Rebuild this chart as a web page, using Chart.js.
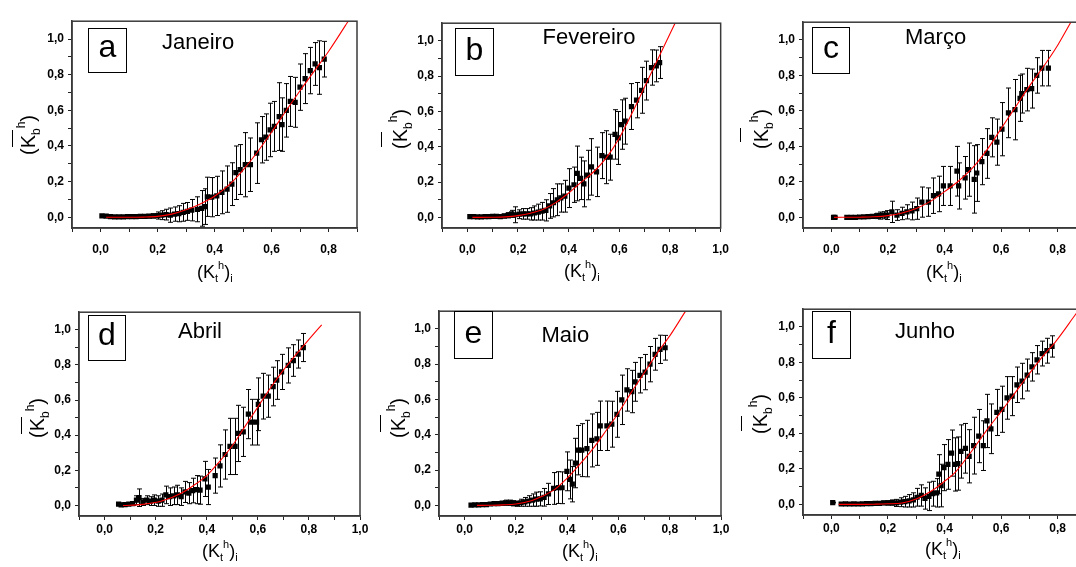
<!DOCTYPE html>
<html><head><meta charset="utf-8">
<script src="https://cdn.jsdelivr.net/npm/chart.js@4.4.0/dist/chart.umd.min.js"></script>
<style>
html,body{margin:0;padding:0;width:1076px;height:567px;overflow:hidden;background:#fff;}
#wrap{position:relative;width:1076px;height:567px;overflow:hidden;}
canvas{position:absolute;}
.t{position:absolute;font-family:"Liberation Sans",Arial,sans-serif;color:#000;white-space:nowrap;line-height:1;}
.box{position:absolute;border:1.6px solid #000;box-sizing:border-box;}
.sb,.sp{font-size:11px;position:relative;}
.sb{top:4px;}
.sp{top:-9px;}
.yt .sb,.yt .sp{font-size:12px;}
.yt .sb{top:5px;}
.yt .sp{top:-10px;}
.ybar{position:absolute;width:1.4px;background:#000;}
</style></head><body><div id="wrap"></div>
<script>
// ---------- tick values and labels ----------
const X_TICKS = [-0.1, 0, 0.1, 0.2, 0.3, 0.4, 0.5, 0.6, 0.7, 0.8, 0.9, 1.0];
const X_TICK_LABELS = ['', '0,0', '', '0,2', '', '0,4', '', '0,6', '', '0,8', '', '1,0'];
const Y_TICKS = [0, 0.1, 0.2, 0.3, 0.4, 0.5, 0.6, 0.7, 0.8, 0.9, 1.0];
const Y_TICK_LABELS = ['0,0', '', '0,2', '', '0,4', '', '0,6', '', '0,8', '', '1,0'];
const LETTERS = ['a', 'b', 'c', 'd', 'e', 'f'];
const MONTHS = ['Janeiro', 'Fevereiro', 'Março', 'Abril', 'Maio', 'Junho'];

// ---------- (a) Janeiro ----------
const janX = [0.005,0.02,0.035,0.05,0.065,0.08,0.095,0.11,0.125,0.14,0.155,0.17,0.185,0.20,0.215,0.23,0.245,0.26,0.275,0.29,0.305,0.32,0.34,0.355,0.365,0.375,0.39,0.408,0.426,0.444,0.461,0.475,0.49,0.508,0.526,0.548,0.565,0.58,0.595,0.61,0.627,0.637,0.652,0.666,0.683,0.70,0.718,0.736,0.753,0.768,0.785];
const janY = [0.008,0.006,0.004,0.003,0.003,0.003,0.004,0.004,0.004,0.005,0.005,0.006,0.008,0.01,0.012,0.015,0.012,0.018,0.02,0.028,0.033,0.04,0.045,0.05,0.06,0.115,0.113,0.12,0.14,0.158,0.186,0.25,0.268,0.295,0.295,0.36,0.435,0.45,0.49,0.51,0.565,0.52,0.60,0.65,0.645,0.73,0.778,0.823,0.86,0.84,0.887];
const janErr = [0.008,0.006,0.004,0.004,0.004,0.005,0.005,0.006,0.006,0.007,0.008,0.01,0.012,0.02,0.025,0.03,0.04,0.04,0.045,0.05,0.05,0.06,0.07,0.1,0.1,0.11,0.11,0.11,0.12,0.13,0.12,0.15,0.14,0.18,0.15,0.17,0.13,0.13,0.15,0.14,0.19,0.15,0.15,0.14,0.14,0.13,0.14,0.13,0.12,0.15,0.1];
const janFitX = [0.02,0.1,0.15,0.2,0.25,0.3,0.35,0.4,0.45,0.5,0.55,0.6,0.65,0.7,0.75,0.8,0.865,0.9];
const janFitY = [0.0,0.0,0.001,0.005,0.018,0.042,0.075,0.118,0.18,0.265,0.365,0.477,0.595,0.71,0.82,0.93,1.09,1.18];

// ---------- (b) Fevereiro ----------
const febX = [0.01,0.025,0.04,0.055,0.07,0.085,0.10,0.115,0.13,0.145,0.16,0.175,0.19,0.205,0.22,0.235,0.25,0.265,0.28,0.295,0.31,0.325,0.34,0.355,0.369,0.385,0.401,0.421,0.434,0.447,0.46,0.475,0.49,0.51,0.531,0.548,0.564,0.583,0.596,0.609,0.623,0.648,0.668,0.688,0.707,0.727,0.746,0.759];
const febY = [0.005,0.004,0.003,0.003,0.004,0.005,0.006,0.006,0.005,0.008,0.012,0.02,0.015,0.018,0.02,0.02,0.02,0.025,0.03,0.035,0.04,0.065,0.083,0.10,0.11,0.12,0.166,0.185,0.249,0.221,0.19,0.24,0.286,0.258,0.35,0.341,0.341,0.47,0.45,0.526,0.545,0.628,0.664,0.72,0.775,0.849,0.858,0.877];
const febErr = [0.005,0.005,0.004,0.004,0.005,0.006,0.007,0.008,0.01,0.012,0.015,0.02,0.045,0.025,0.03,0.03,0.035,0.04,0.045,0.05,0.06,0.07,0.08,0.09,0.08,0.09,0.11,0.1,0.155,0.12,0.13,0.14,0.16,0.14,0.13,0.15,0.13,0.14,0.15,0.14,0.13,0.13,0.1,0.13,0.11,0.1,0.09,0.09];
const febFitX = [0.02,0.1,0.15,0.2,0.25,0.3,0.35,0.4,0.45,0.5,0.55,0.6,0.65,0.7,0.75,0.8,0.82,0.86];
const febFitY = [0.0,0.001,0.003,0.01,0.024,0.046,0.085,0.138,0.2,0.26,0.34,0.45,0.59,0.74,0.89,1.04,1.1,1.22];

// ---------- (c) Março ----------
const marX = [0.008,0.013,0.055,0.07,0.085,0.10,0.115,0.13,0.145,0.16,0.173,0.185,0.197,0.214,0.232,0.25,0.267,0.285,0.302,0.32,0.343,0.361,0.379,0.396,0.42,0.444,0.45,0.473,0.485,0.505,0.514,0.532,0.55,0.567,0.585,0.603,0.626,0.649,0.667,0.673,0.691,0.708,0.726,0.744,0.767];
const marY = [0.0,0.0,0.0,0.0,0.0,0.002,0.003,0.004,0.005,0.008,0.01,0.012,0.013,0.031,0.013,0.022,0.031,0.036,0.049,0.086,0.086,0.122,0.132,0.177,0.177,0.26,0.177,0.223,0.269,0.214,0.25,0.314,0.36,0.451,0.424,0.497,0.589,0.607,0.671,0.698,0.72,0.726,0.80,0.841,0.841];
const marErr = [0.003,0.003,0.003,0.003,0.004,0.005,0.006,0.008,0.01,0.015,0.02,0.02,0.025,0.06,0.03,0.035,0.04,0.05,0.06,0.085,0.08,0.1,0.1,0.11,0.11,0.14,0.13,0.12,0.15,0.19,0.16,0.13,0.14,0.11,0.13,0.15,0.14,0.17,0.13,0.11,0.12,0.11,0.1,0.1,0.1];
const marFitX = [0.01,0.1,0.15,0.2,0.25,0.3,0.35,0.4,0.45,0.5,0.55,0.6,0.65,0.7,0.75,0.8,0.85,0.9];
const marFitY = [0.0,0.001,0.003,0.01,0.025,0.05,0.09,0.145,0.205,0.28,0.38,0.5,0.62,0.74,0.85,0.97,1.11,1.25];

// ---------- (d) Abril ----------
const aprX = [0.055,0.065,0.08,0.095,0.11,0.125,0.135,0.15,0.165,0.18,0.195,0.21,0.225,0.24,0.255,0.27,0.285,0.30,0.315,0.33,0.345,0.36,0.374,0.393,0.406,0.433,0.452,0.472,0.491,0.511,0.524,0.543,0.563,0.576,0.595,0.602,0.621,0.641,0.66,0.674,0.693,0.719,0.739,0.758,0.778];
const aprY = [0.008,0.003,0.005,0.008,0.01,0.03,0.044,0.02,0.03,0.025,0.03,0.025,0.03,0.06,0.05,0.055,0.06,0.05,0.077,0.07,0.085,0.09,0.087,0.151,0.105,0.17,0.225,0.29,0.336,0.336,0.41,0.419,0.52,0.474,0.474,0.576,0.622,0.622,0.677,0.714,0.76,0.797,0.825,0.862,0.899];
const aprErr = [0.005,0.005,0.006,0.008,0.01,0.025,0.05,0.02,0.025,0.025,0.03,0.03,0.035,0.05,0.05,0.05,0.055,0.05,0.06,0.06,0.07,0.08,0.08,0.1,0.1,0.1,0.12,0.14,0.16,0.16,0.16,0.14,0.14,0.13,0.13,0.15,0.13,0.12,0.11,0.11,0.1,0.1,0.09,0.08,0.08];
const aprFitX = [0.072,0.15,0.224,0.3,0.35,0.4,0.45,0.5,0.55,0.6,0.65,0.7,0.75,0.8,0.85];
const aprFitY = [0.0,0.006,0.025,0.07,0.115,0.17,0.25,0.34,0.45,0.56,0.67,0.77,0.86,0.945,1.028];

// ---------- (e) Maio ----------
const mayX = [0.025,0.04,0.055,0.07,0.085,0.10,0.115,0.13,0.145,0.16,0.175,0.19,0.205,0.22,0.235,0.25,0.265,0.28,0.295,0.31,0.327,0.347,0.366,0.38,0.399,0.412,0.42,0.432,0.444,0.457,0.477,0.496,0.516,0.529,0.555,0.574,0.594,0.613,0.633,0.652,0.665,0.684,0.704,0.723,0.743,0.762,0.782];
const mayY = [0.002,0.003,0.003,0.004,0.005,0.008,0.01,0.01,0.012,0.015,0.015,0.012,0.01,0.015,0.02,0.025,0.03,0.035,0.037,0.046,0.065,0.096,0.101,0.10,0.193,0.147,0.12,0.24,0.313,0.313,0.322,0.368,0.377,0.451,0.451,0.46,0.516,0.598,0.654,0.645,0.70,0.737,0.755,0.80,0.856,0.884,0.893];
const mayErr = [0.003,0.003,0.004,0.005,0.006,0.008,0.01,0.01,0.012,0.015,0.015,0.015,0.015,0.02,0.025,0.03,0.035,0.04,0.04,0.05,0.06,0.09,0.09,0.09,0.11,0.11,0.1,0.14,0.14,0.15,0.16,0.15,0.15,0.14,0.14,0.13,0.13,0.14,0.12,0.12,0.11,0.1,0.1,0.1,0.09,0.08,0.07];
const mayFitX = [0.048,0.1,0.15,0.2,0.263,0.3,0.353,0.4,0.431,0.5,0.55,0.6,0.65,0.7,0.75,0.8,0.86,0.88];
const mayFitY = [0.0,0.001,0.003,0.008,0.028,0.05,0.092,0.155,0.203,0.32,0.42,0.525,0.64,0.75,0.86,0.96,1.096,1.14];

// ---------- (f) Junho ----------
const junX = [0.005,0.035,0.05,0.065,0.08,0.095,0.11,0.125,0.14,0.155,0.17,0.185,0.20,0.215,0.23,0.245,0.26,0.275,0.29,0.303,0.318,0.331,0.345,0.358,0.372,0.38,0.388,0.398,0.412,0.425,0.436,0.447,0.458,0.474,0.487,0.503,0.521,0.537,0.55,0.564,0.585,0.603,0.621,0.639,0.656,0.674,0.692,0.709,0.727,0.745,0.762,0.78];
const junY = [0.01,0.002,0.003,0.002,0.003,0.002,0.003,0.004,0.004,0.005,0.006,0.008,0.008,0.01,0.008,0.012,0.015,0.02,0.025,0.04,0.05,0.033,0.045,0.06,0.065,0.17,0.106,0.207,0.225,0.289,0.225,0.23,0.298,0.316,0.271,0.331,0.385,0.331,0.47,0.426,0.518,0.536,0.60,0.61,0.674,0.695,0.729,0.775,0.815,0.85,0.866,0.89];
const junErr = [0.002,0.003,0.003,0.003,0.004,0.004,0.005,0.005,0.006,0.007,0.008,0.01,0.012,0.015,0.02,0.025,0.03,0.035,0.04,0.05,0.06,0.06,0.08,0.07,0.08,0.11,0.12,0.13,0.14,0.13,0.15,0.15,0.15,0.14,0.15,0.16,0.15,0.14,0.15,0.14,0.13,0.13,0.12,0.11,0.1,0.1,0.09,0.08,0.08,0.07,0.07,0.06];
const junFitX = [0.026,0.1,0.15,0.2,0.25,0.3,0.366,0.4,0.437,0.508,0.55,0.602,0.65,0.696,0.75,0.79,0.866,0.9];
const junFitY = [0.0,0.0,0.001,0.003,0.008,0.03,0.088,0.13,0.179,0.326,0.42,0.527,0.63,0.729,0.84,0.912,1.077,1.15];

// ---------- layout (page pixels) ----------
const SERIES = [
  {x: janX, y: janY, err: janErr, fx: janFitX, fy: janFitY},
  {x: febX, y: febY, err: febErr, fx: febFitX, fy: febFitY},
  {x: marX, y: marY, err: marErr, fx: marFitX, fy: marFitY},
  {x: aprX, y: aprY, err: aprErr, fx: aprFitX, fy: aprFitY},
  {x: mayX, y: mayY, err: mayErr, fx: mayFitX, fy: mayFitY},
  {x: junX, y: junY, err: junErr, fx: junFitX, fy: junFitY}
];
const LAYOUT = [
  {L:72,  R:357,  T:16,  B:228, xMax:0.9, xPad:10, box:[88,28,39,45],  month:[162,49.5], xt:[197,278], yt:[28,135],  bar:[11.5,130,17]},
  {L:442, R:723,  T:18,  B:228, xMax:1.0, xPad:10, box:[455,28,39,48], month:[542.5,45], xt:[564,277], yt:[400,129], bar:[380.5,132,15]},
  {L:803, R:1086, T:17,  B:228, xMax:0.9, xPad:10, box:[812,27,38,47], month:[905,45],   xt:[926,278], yt:[761,129], bar:[740,128,14]},
  {L:79,  R:360,  T:307, B:516, xMax:1.0, xPad:2,  box:[88,315,38,46], month:[178,339],  xt:[202,557], yt:[37,418],  bar:[20.5,417,17]},
  {L:439, R:721,  T:306, B:516, xMax:1.0, xPad:2,  box:[454,311,39,48],month:[541.5,342.5], xt:[562,557], yt:[398,418], bar:[380,415,17]},
  {L:803, R:1086, T:304, B:515, xMax:0.9, xPad:2,  box:[812,311,39,48],month:[895,339],  xt:[925,555], yt:[760,414], bar:[740.5,416,15]}
];
const YW = 46, PT = 6, PR = 16, XH = 42;
const FONT = '"Liberation Sans", Arial, sans-serif';
Chart.defaults.font.family = FONT;

const errorBars = {
  id: 'errorBars',
  beforeDatasetsDraw(chart) {
    const ctx = chart.ctx, xs = chart.scales.x, ys = chart.scales.y, a = chart.chartArea;
    ctx.save();
    ctx.beginPath(); ctx.rect(a.left, a.top, a.right - a.left, a.bottom - a.top); ctx.clip();
    ctx.strokeStyle = '#000'; ctx.lineWidth = 1;
    chart.data.datasets.forEach(ds => {
      if (!ds.errors) return;
      ds.data.forEach((p, i) => {
        const e = ds.errors[i]; if (e == null) return;
        const px = Math.round(xs.getPixelForValue(p.x)) + 0.5;
        const t = ys.getPixelForValue(p.y + e), b = ys.getPixelForValue(p.y - e);
        ctx.beginPath();
        ctx.moveTo(px, t); ctx.lineTo(px, b);
        ctx.moveTo(px - 2.5, t); ctx.lineTo(px + 2.5, t);
        ctx.moveTo(px - 2.5, b); ctx.lineTo(px + 2.5, b);
        ctx.stroke();
      });
    });
    ctx.restore();
  }
};
const frame = {
  id: 'frame',
  afterDraw(chart) {
    const ctx = chart.ctx, a = chart.chartArea;
    ctx.save(); ctx.strokeStyle = '#3a3a3a'; ctx.lineWidth = 1.5;
    ctx.strokeRect(a.left, a.top, a.right - a.left, a.bottom - a.top);
    ctx.restore();
  }
};

const wrap = document.getElementById('wrap');
function addText(html, cls, style) {
  const d = document.createElement('div');
  d.className = cls; d.innerHTML = html; d.style.cssText = style;
  wrap.appendChild(d); return d;
}

SERIES.forEach((s, i) => {
  const p = LAYOUT[i];
  const w = p.R - p.L + YW + PR, h = p.B - p.T + PT + XH;
  const cv = document.createElement('canvas');
  cv.width = w; cv.height = h;
  cv.style.left = (p.L - YW) + 'px'; cv.style.top = (p.T - PT) + 'px';
  cv.style.width = w + 'px'; cv.style.height = h + 'px';
  wrap.appendChild(cv);
  const tickFont = {family: FONT, size: 12, weight: 'bold'};
  new Chart(cv.getContext('2d'), {
    type: 'scatter',
    data: {
      datasets: [
        {data: s.fx.map((x, j) => ({x, y: s.fy[j]})), showLine: true, borderColor: '#ff0000', borderWidth: 1.1,
         pointRadius: 0, cubicInterpolationMode: 'monotone', fill: false, order: 0},
        {data: s.x.map((x, j) => ({x, y: s.y[j]})), errors: s.err, pointStyle: 'rect', pointRadius: 3.7,
         backgroundColor: '#000', borderColor: '#000', borderWidth: 0, order: 1}
      ]
    },
    options: {
      responsive: false, animation: false, devicePixelRatio: 1,
      layout: {padding: {left: 0, right: PR, top: PT, bottom: 0}},
      plugins: {legend: {display: false}, tooltip: {enabled: false}},
      scales: {
        x: {
          type: 'linear', min: -0.1, max: p.xMax,
          afterBuildTicks: sc => { sc.ticks = X_TICKS.filter(v => v <= p.xMax + 1e-9).map(v => ({value: v})); },
          afterFit: sc => { sc.height = XH; },
          ticks: {callback: v => X_TICK_LABELS[X_TICKS.indexOf(v)] || '', font: tickFont, color: '#000',
                  padding: p.xPad, maxRotation: 0, autoSkip: false},
          grid: {drawOnChartArea: false, drawTicks: true, tickLength: 4, color: '#222', tickWidth: 1},
          border: {color: '#3a3a3a', width: 1.5}
        },
        y: {
          type: 'linear', min: -0.06, max: 1.1,
          afterBuildTicks: sc => { sc.ticks = Y_TICKS.map(v => ({value: v})); },
          afterFit: sc => { sc.width = YW; },
          ticks: {callback: v => Y_TICK_LABELS[Y_TICKS.indexOf(v)] || '', font: tickFont, color: '#000',
                  padding: 4, autoSkip: false},
          grid: {drawOnChartArea: false, drawTicks: true, tickLength: 4, color: '#222', tickWidth: 1},
          border: {color: '#3a3a3a', width: 1.5}
        }
      }
    },
    plugins: [errorBars, frame]
  });

  // letter box
  const bx = addText('', 'box', `left:${p.box[0]}px;top:${p.box[1]}px;width:${p.box[2]}px;height:${p.box[3]}px;`);
  const lt = document.createElement('div');
  lt.className = 't'; lt.textContent = LETTERS[i];
  lt.style.cssText = `left:0;width:100%;text-align:center;top:${p.box[3] - 44}px;font-size:32px;`;
  bx.appendChild(lt);
  // month
  addText(MONTHS[i], 't', `left:${p.month[0]}px;top:${p.month[1] - 0.8465 * 22}px;font-size:22px;`);
  // x title
  addText('(K<span class="sb">t</span><span class="sp">h</span>)<span class="sb">i</span>', 't',
          `left:${p.xt[0]}px;top:${p.xt[1] - 0.8465 * 18}px;font-size:18px;`);
  // y title
  addText('(K<span class="sb">b</span><span class="sp">h</span>)', 't yt',
          `left:${p.yt[0]}px;top:${p.yt[1]}px;font-size:20px;transform:translate(-50%,-50%) rotate(-90deg);`);
  const bar = document.createElement('div');
  bar.className = 'ybar';
  bar.style.cssText = `left:${p.bar[0]}px;top:${p.bar[1]}px;height:${p.bar[2]}px;`;
  wrap.appendChild(bar);
});
</script>
</body></html>
